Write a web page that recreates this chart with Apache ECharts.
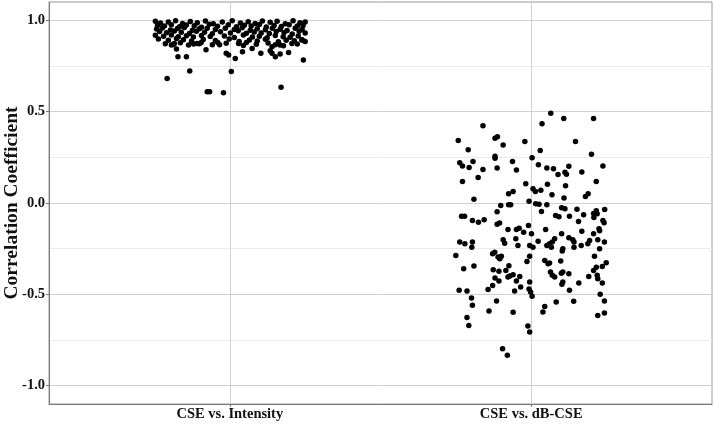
<!DOCTYPE html>
<html>
<head>
<meta charset="utf-8">
<script src="https://cdn.jsdelivr.net/npm/echarts@6/dist/echarts.min.js"></script>
<style>html,body{margin:0;padding:0;background:#fff;}#c{width:714px;height:424px;}</style>
</head>
<body>
<div id="c"></div>
<script>
const categories = ['CSE vs. Intensity', 'CSE vs. dB-CSE'];
const yTicks = [-1, -0.5, 0, 0.5, 1];

// CSE vs. Intensity: horizontal jitter offsets and correlation values
const intensityJitter = [
  -0.208,-0.133,-0.075,-0.067,-0.021,0.005,0.170,0.244,-0.172,-0.144,-0.177,-0.079,-0.012,-0.004,0.018,0.042,0.074,0.103,0.134,0.140,0.151,0.167,0.195,0.178,0.206,0.239,0.250,-0.120,-0.109,-0.095,-0.194,-0.184,-0.034,-0.040,0.029,0.055,0.140,0.151,
  -0.247,-0.230,-0.204,-0.180,-0.157,-0.131,-0.108,-0.081,-0.055,-0.025,0.008,0.035,0.061,0.084,0.108,0.134,0.157,0.184,0.210,0.233,0.250,
  -0.240,-0.217,-0.194,-0.167,-0.144,-0.118,-0.094,-0.068,-0.041,-0.005,0.022,0.048,0.071,0.098,0.121,0.147,0.171,0.197,0.224,0.243,
  -0.243,-0.224,-0.197,-0.174,-0.151,-0.124,-0.101,-0.075,-0.048,-0.015,0.015,0.041,0.068,0.091,0.118,0.141,0.167,0.190,0.217,0.240,
  -0.233,-0.210,-0.184,-0.161,-0.134,-0.111,-0.084,-0.058,-0.031,0.002,0.028,0.055,0.081,0.104,0.131,0.154,0.180,0.207,0.230,0.250,
  -0.247,-0.220,-0.194,-0.171,-0.144,-0.121,-0.094,-0.065,-0.018,0.015,0.045,0.075,0.098,0.124,0.151,0.177,0.200,0.227,
  -0.237,-0.204,-0.177,-0.154,-0.127,-0.088,-0.048,-0.002,0.031,0.065,0.091,0.118,0.161,0.187,0.214,0.240,
  -0.214,-0.187,-0.164,-0.137,-0.101,-0.058,-0.012,0.045,0.088,0.127,0.167,0.224
];
const intensityR = [
  0.682,0.722,0.609,0.609,0.604,0.719,0.633,0.783,0.801,0.801,0.843,0.839,0.819,0.810,0.791,0.828,0.846,0.819,0.833,0.819,0.801,0.815,0.824,0.861,0.873,0.892,0.884,0.870,0.873,0.879,0.864,0.873,0.866,0.879,0.873,0.879,0.855,0.866,
  0.995,0.985,0.990,0.998,0.982,0.993,0.987,0.996,0.981,0.990,0.997,0.985,0.992,0.983,0.996,0.989,0.994,0.981,0.998,0.986,0.991,
  0.972,0.968,0.976,0.965,0.974,0.970,0.962,0.978,0.967,0.975,0.964,0.973,0.969,0.977,0.963,0.971,0.966,0.975,0.968,0.972,
  0.952,0.958,0.947,0.955,0.960,0.945,0.953,0.957,0.949,0.956,0.950,0.959,0.946,0.954,0.948,0.957,0.951,0.944,0.956,0.950,
  0.938,0.932,0.941,0.935,0.928,0.940,0.934,0.926,0.937,0.930,0.942,0.929,0.936,0.931,0.927,0.939,0.933,0.925,0.940,0.930,
  0.918,0.912,0.920,0.910,0.915,0.908,0.917,0.911,0.914,0.906,0.919,0.909,0.913,0.905,0.916,0.910,0.907,0.914,
  0.897,0.890,0.900,0.893,0.886,0.895,0.889,0.898,0.884,0.892,0.887,0.896,0.883,0.891,0.888,0.894,
  0.872,0.868,0.877,0.864,0.871,0.866,0.874,0.862,0.869,0.876,0.865,0.870
];

// CSE vs. dB-CSE: horizontal jitter offsets and correlation values
const dbJitter = [
  -0.160,-0.242,-0.120,-0.112,-0.093,-0.021,-0.209,-0.120,-0.120,0.003,-0.237,-0.228,-0.193,-0.206,-0.160,-0.113,-0.062,-0.049,-0.176,-0.228,-0.018,0.006,-0.060,-0.075,-0.190,-0.007,-0.101,-0.075,-0.068,-0.113,-0.231,-0.221,-0.195,-0.175,-0.156,-0.113,-0.105,-0.077,-0.049,-0.040,-0.025,-0.009,0.001,
  0.065,0.036,0.108,0.207,0.147,0.030,0.200,0.024,0.052,0.074,0.089,0.112,0.117,0.125,0.168,0.238,0.216,0.054,0.114,0.014,0.032,0.069,0.109,0.180,0.189,0.015,0.026,0.052,0.101,0.112,0.152,0.207,0.216,0.219,0.244,0.034,0.081,0.092,0.127,0.174,0.208,0.157,0.238,0.242,0.225,0.227,0.048,0.101,0.168,0.207,
  -0.237,-0.220,-0.195,-0.197,-0.093,-0.088,-0.051,-0.044,-0.005,0.006,-0.250,-0.128,-0.121,-0.110,-0.104,-0.099,-0.005,-0.014,-0.224,-0.190,-0.126,-0.107,-0.084,-0.074,-0.120,-0.107,-0.077,-0.071,-0.060,-0.038,-0.049,-0.128,-0.035,-0.005,-0.239,-0.213,-0.143,-0.055,-0.007,-0.002,0.003,-0.198,-0.195,-0.115,-0.140,-0.060,-0.213,-0.207,-0.011,-0.005,-0.095,-0.079,
  0.023,0.052,0.061,0.070,0.067,0.078,0.105,0.103,0.125,0.138,0.142,0.142,0.166,0.188,0.194,0.221,0.243,0.227,0.045,0.056,0.061,0.098,0.210,0.064,0.070,0.078,0.100,0.105,0.125,0.207,0.216,0.236,0.249,0.191,0.219,0.221,0.105,0.102,0.158,0.236,0.127,0.229,0.243,0.083,0.141,0.045,0.039,0.221,0.243
];
const dbR = [
  0.423,0.342,0.354,0.363,0.318,0.336,0.291,0.256,0.245,0.247,0.220,0.203,0.227,0.194,0.183,0.192,0.227,0.181,0.139,0.117,0.105,0.078,0.063,0.050,0.021,0.010,-0.014,-0.010,-0.010,-0.048,-0.072,-0.072,-0.096,-0.105,-0.092,-0.116,-0.110,-0.145,-0.145,-0.138,-0.160,-0.123,-0.168,
  0.491,0.434,0.463,0.463,0.336,0.287,0.267,0.209,0.192,0.187,0.156,0.168,0.157,0.201,0.170,0.203,0.117,0.103,0.094,0.063,0.070,0.045,0.028,0.036,0.050,-0.004,-0.007,-0.010,-0.026,-0.032,-0.034,-0.057,-0.043,-0.059,-0.036,-0.046,-0.068,-0.075,-0.072,-0.064,-0.079,-0.101,-0.096,-0.108,-0.141,-0.152,-0.145,-0.168,-0.154,-0.168,
  -0.214,-0.223,-0.214,-0.242,-0.201,-0.220,-0.196,-0.232,-0.232,-0.242,-0.287,-0.278,-0.269,-0.296,-0.305,-0.292,-0.292,-0.320,-0.360,-0.345,-0.365,-0.373,-0.369,-0.343,-0.411,-0.427,-0.405,-0.400,-0.392,-0.402,-0.427,-0.451,-0.460,-0.433,-0.478,-0.482,-0.474,-0.482,-0.471,-0.487,-0.511,-0.520,-0.560,-0.537,-0.591,-0.598,-0.627,-0.671,-0.673,-0.706,-0.797,-0.833,
  -0.209,-0.232,-0.223,-0.214,-0.242,-0.196,-0.250,-0.263,-0.190,-0.201,-0.214,-0.242,-0.232,-0.223,-0.205,-0.201,-0.214,-0.250,-0.314,-0.332,-0.329,-0.318,-0.292,-0.378,-0.396,-0.405,-0.384,-0.378,-0.387,-0.369,-0.351,-0.347,-0.327,-0.402,-0.396,-0.414,-0.433,-0.445,-0.438,-0.438,-0.478,-0.500,-0.537,-0.542,-0.538,-0.566,-0.597,-0.616,-0.602
];

const groupX = [1, 2];
const intensityData = intensityJitter.map((j, i) => [groupX[0] + j, intensityR[i]]);
const dbData = dbJitter.map((j, i) => [groupX[1] + j, dbR[i]]);

const serif = '"Liberation Serif", "Times New Roman", serif';
const chart = echarts.init(document.getElementById('c'), null, {renderer: 'canvas'});
chart.setOption({
  animation: false,
  backgroundColor: '#fff',
  grid: {left: 49, right: 2, top: 2, bottom: 20, show: true, borderColor: '#9a9a9a', borderWidth: 1,
         containLabel: false, outerBoundsMode: 'none'},
  xAxis: {
    type: 'value', min: 0.4, max: 2.6, position: 'bottom',
    axisLine: {show: true, onZero: false, lineStyle: {color: '#7a7a7a', width: 1}},
    axisTick: {show: true, length: 3, customValues: groupX, lineStyle: {color: '#7a7a7a'}},
    axisLabel: {
      customValues: groupX, margin: 3,
      formatter: v => categories[groupX.indexOf(Math.round(v))] || '',
      fontFamily: serif, fontWeight: 'bold', fontSize: 14.5, color: '#111'
    },
    splitLine: {show: false}
  },
  yAxis: {
    type: 'value', min: -1.1, max: 1.1, position: 'left',
    name: 'Correlation Coefficient', nameLocation: 'middle', nameGap: 27, nameMoveOverlap: false,
    nameTextStyle: {fontFamily: serif, fontWeight: 'bold', fontSize: 19.5, color: '#111'},
    axisLine: {show: true, onZero: false, lineStyle: {color: '#7a7a7a', width: 1}},
    axisTick: {show: true, length: 3, customValues: yTicks, lineStyle: {color: '#7a7a7a'}},
    axisLabel: {
      customValues: yTicks, margin: 4,
      formatter: v => v.toFixed(1),
      fontFamily: serif, fontWeight: 'bold', fontSize: 14.5, color: '#111'
    },
    splitLine: {show: true, lineStyle: {color: '#d0d0d0', width: 1}},
    minorTick: {show: false, splitNumber: 2},
    minorSplitLine: {show: true, lineStyle: {color: '#ebebeb', width: 1}}
  },
  series: [
    {
      type: 'scatter', data: intensityData, symbol: 'circle', symbolSize: 5.5,
      itemStyle: {color: '#000', opacity: 1}, z: 3, silent: true,
      markLine: {
        silent: true, symbol: 'none', z: 1, label: {show: false},
        lineStyle: {color: '#d0d0d0', type: 'solid', width: 1},
        data: groupX.map(x => ({xAxis: x}))
      }
    },
    {
      type: 'scatter', data: dbData, symbol: 'circle', symbolSize: 5.5,
      itemStyle: {color: '#000', opacity: 1}, z: 3, silent: true
    }
  ]
});
</script>
</body>
</html>
